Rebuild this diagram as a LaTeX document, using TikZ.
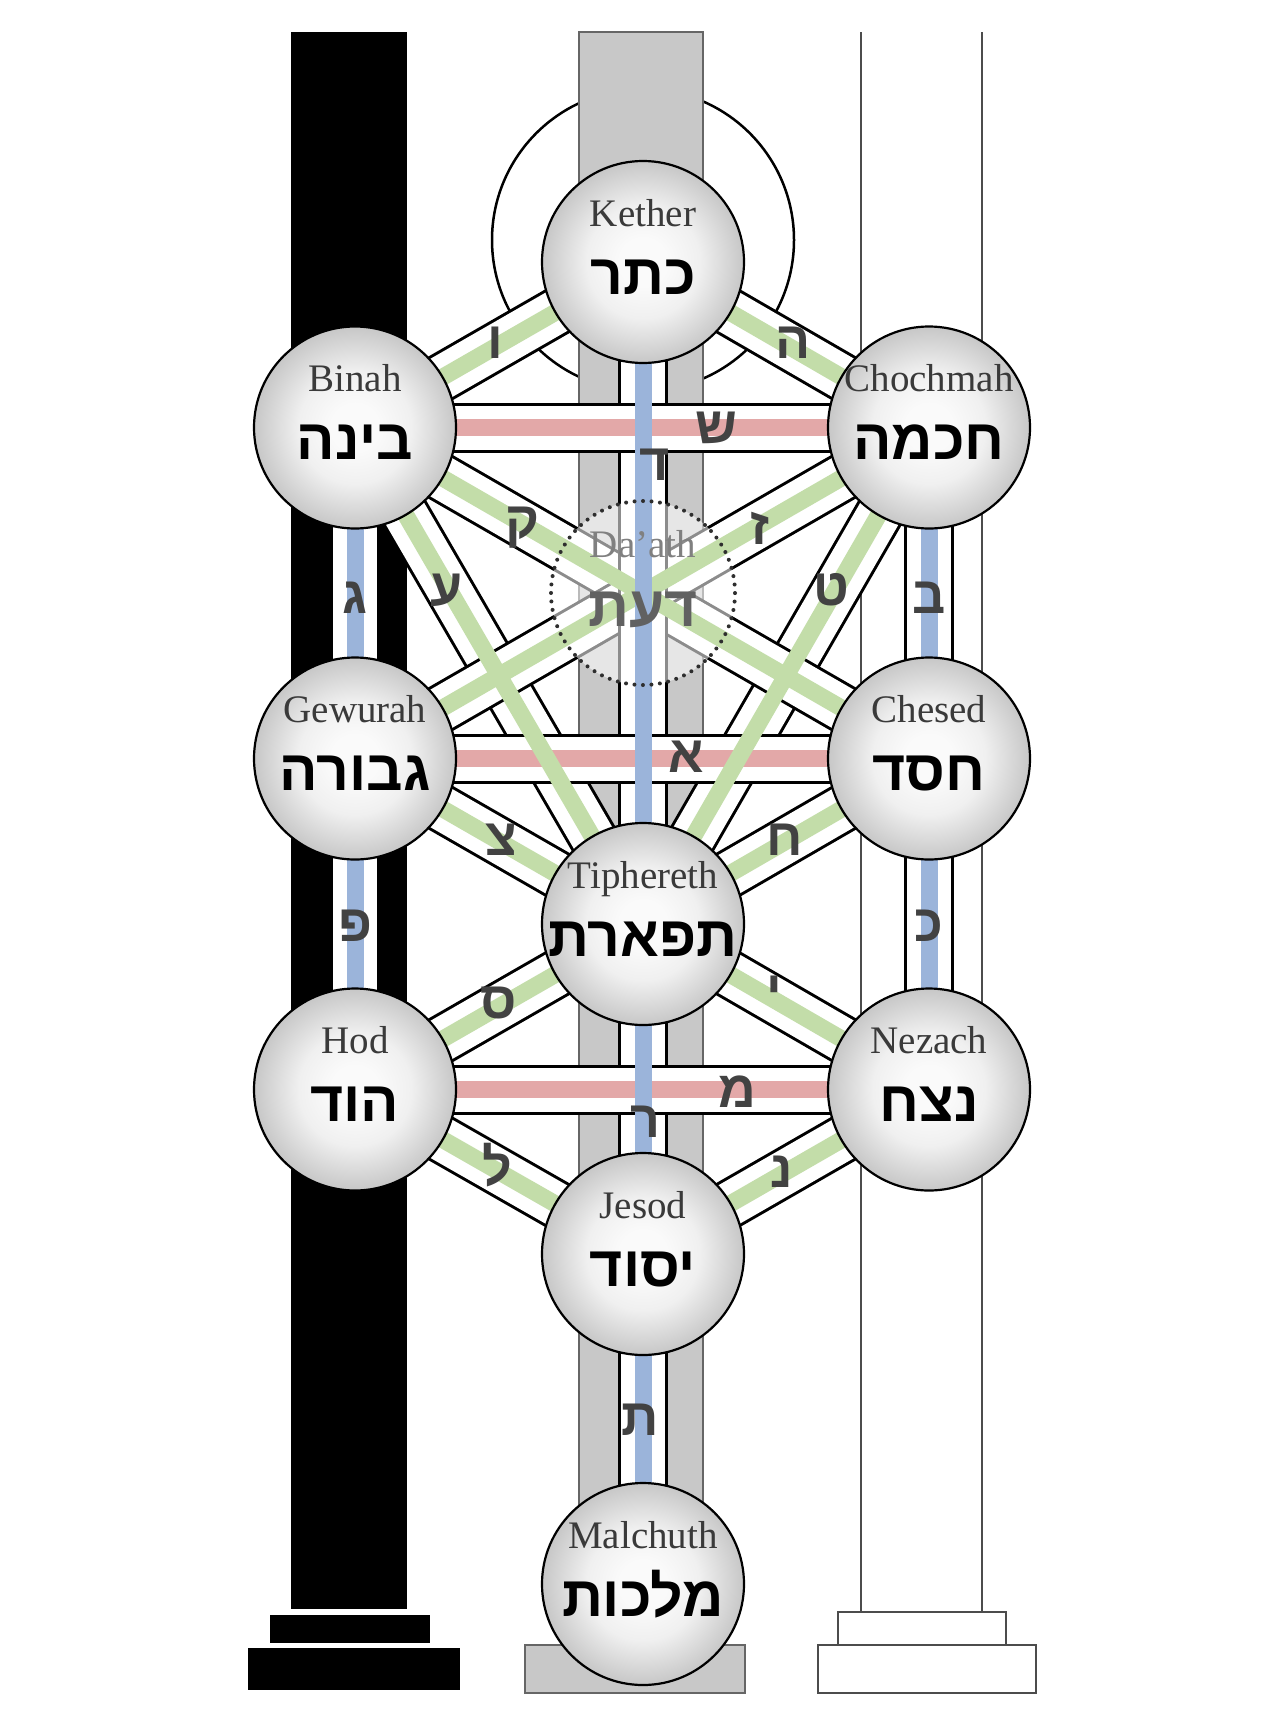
\documentclass[tikz,border=0pt]{standalone}
\usepackage{fontspec}
\setmainfont{Liberation Serif}
\newfontfamily\hebfont[Script=Hebrew]{Liberation Sans}
\TeXXeTstate=1
\definecolor{pgreen}{HTML}{C3DDA9}
\definecolor{pred}{HTML}{E3A8A8}
\definecolor{pblue}{HTML}{9BB4DA}
\definecolor{pillargray}{HTML}{C8C8C8}
\definecolor{namegray}{HTML}{3A3A3A}
\definecolor{lettergray}{HTML}{424242}
\definecolor{sephlight}{gray}{0.98}
\definecolor{sephmid}{gray}{0.94}
\definecolor{sephdark}{gray}{0.78}
\pgfdeclareradialshading{sephball}{\pgfpoint{0bp}{0bp}}{color(0bp)=(sephlight); color(6bp)=(sephlight); color(14bp)=(sephmid); color(25bp)=(sephdark); color(50bp)=(sephdark)}
\pgfdeclarelayer{pillars}
\pgfdeclarelayer{bands}
\pgfdeclarelayer{dfill}
\pgfdeclarelayer{stripes}
\pgfsetlayers{pillars,bands,dfill,stripes,main}
\begin{document}
\begin{tikzpicture}[x=1pt,y=-1pt,
  seph/.style={circle, minimum size=202pt, inner sep=0pt, draw=black, line width=2.2pt, shade, shading=sephball},
  daathnode/.style={circle, minimum size=184pt, inner sep=0pt, draw=black!82, line width=4pt, dash pattern=on 0pt off 8.5pt, line cap=round},
  bandout/.style={draw=black, line width=50pt},
  bandin/.style={draw=white, line width=44pt},
  stripe/.style={draw=#1, line width=17pt},
  ename/.style={font=\fontsize{39}{42}\selectfont, text=namegray, anchor=base, inner sep=0pt},
  hname/.style={font=\hebfont\bfseries\fontsize{57}{60}\selectfont, text=black, anchor=base, inner sep=0pt},
  plet/.style={font=\hebfont\bfseries\fontsize{52}{56}\selectfont, text=lettergray, inner sep=0pt}]
\useasboundingbox (0,0) rectangle (1280,1713);

% ---------- sephiroth ----------
\node[seph] (kether) at (643,262) {};
\node[seph] (binah) at (355,427.5) {};
\node[seph] (chochmah) at (929,427.5) {};
\node[daathnode] (daath) at (643,593) {};
\node[seph] (gewurah) at (355,758.5) {};
\node[seph] (chesed) at (929,758.5) {};
\node[seph] (tiphereth) at (643,924) {};
\node[seph] (hod) at (355,1089.5) {};
\node[seph] (nezach) at (929,1089.5) {};
\node[seph] (jesod) at (643,1254) {};
\node[seph] (malchuth) at (643,1584) {};

% names
\foreach \n/\e/\h in {kether/Kether/כתר, binah/Binah/בינה, chochmah/Chochmah/חכמה,
  gewurah/Gewurah/גבורה, chesed/Chesed/חסד, tiphereth/Tiphereth/תפארת,
  hod/Hod/הוד, nezach/Nezach/נצח, jesod/Jesod/יסוד, malchuth/Malchuth/מלכות}{
  \node[ename] (\n-en) at ([yshift=36pt]\n.center) {\e};
  \node[hname] (\n-he) at ([yshift=-32pt]\n.center) {\beginR\h\endR};
}
\node[ename, text=black!50] (daath-en) at ([yshift=36pt]daath.center) {Da'ath};
\node[hname, text=black!62] (daath-he) at ([yshift=-33pt]daath.center) {\beginR דעת\endR};

% ---------- pillars ----------
\begin{pgfonlayer}{pillars}
  \fill[white] (0,0) rectangle (1280,1713);
  \draw[line width=2.5pt, fill=white] (643,240) circle[radius=151pt];
  \fill[black] (291,32) rectangle (407,1609);
  \fill[black] (270,1615) rectangle (430,1643);
  \fill[black] (248,1648) rectangle (460,1690);
  \filldraw[fill=pillargray, draw=black!60, line width=1.3pt] (579,32) rectangle (703,1645);
  \filldraw[fill=pillargray, draw=black!60, line width=1.3pt] (525,1645) rectangle (745,1693);
  \draw[black!70, line width=2pt] (861,32) -- (861,1612) (982,32) -- (982,1612);
  \filldraw[fill=white, draw=black!70, line width=2pt] (838,1612) rectangle (1006,1645);
  \filldraw[fill=white, draw=black!70, line width=2pt] (818,1645) rectangle (1036,1693);
\end{pgfonlayer}

% ---------- path bands ----------
\begin{pgfonlayer}{bands}
  \foreach \a/\b in {binah/tiphereth, chochmah/tiphereth, binah/chesed, gewurah/chochmah,
    kether/binah, kether/chochmah, gewurah/tiphereth, chesed/tiphereth,
    tiphereth/hod, tiphereth/nezach, hod/jesod, nezach/jesod,
    kether/tiphereth, binah/gewurah, gewurah/hod, chochmah/chesed, chesed/nezach,
    tiphereth/jesod, jesod/malchuth,
    binah/chochmah, gewurah/chesed, hod/nezach}{
    \draw[bandout] (\a.center) -- (\b.center);
    \draw[bandin] (\a.center) -- (\b.center);
  }
\end{pgfonlayer}

\begin{pgfonlayer}{dfill}
  \fill[white, fill opacity=0.55] (daath.center) circle[radius=92pt];
\end{pgfonlayer}

\begin{pgfonlayer}{stripes}
  \foreach \a/\b in {binah/chochmah, gewurah/chesed, hod/nezach}
    \draw[stripe=pred] (\a.center) -- (\b.center);
  \foreach \a/\b in {binah/tiphereth, chochmah/tiphereth, binah/chesed, gewurah/chochmah,
    kether/binah, kether/chochmah, gewurah/tiphereth, chesed/tiphereth,
    tiphereth/hod, tiphereth/nezach, hod/jesod, nezach/jesod}
    \draw[stripe=pgreen] (\a.center) -- (\b.center);
  \foreach \a/\b in {kether/tiphereth, binah/gewurah, gewurah/hod, chochmah/chesed,
    chesed/nezach, tiphereth/jesod, jesod/malchuth}
    \draw[stripe=pblue] (\a.center) -- (\b.center);
\end{pgfonlayer}

% ---------- path letters ----------
\node[plet] (l-vav) at (495,343) {ו};
\node[plet] (l-he) at (793,343) {ה};
\node[plet] (l-shin) at (716,428) {ש};
\node[plet] (l-dalet) at (655,465) {ד};
\node[plet] (l-qof) at (522,528) {ק};
\node[plet] (l-zayin) at (760,528) {ז};
\node[plet] (l-ayin) at (447,590) {ע};
\node[plet] (l-tet) at (831,590) {ט};
\node[plet] (l-gimel) at (355,598) {ג};
\node[plet] (l-bet) at (929,598) {ב};
\node[plet] (l-alef) at (686,757) {א};
\node[plet] (l-tsadi) at (501,840) {צ};
\node[plet] (l-het) at (785,840) {ח};
\node[plet] (l-pe) at (355,926) {פ};
\node[plet] (l-kaf) at (929,926) {כ};
\node[plet] (l-samekh) at (499,1003) {ס};
\node[plet] (l-yod) at (774,992) {י};
\node[plet] (l-mem) at (737,1092) {מ};
\node[plet] (l-resh) at (645,1122) {ר};
\node[plet] (l-lamed) at (497,1165) {ל};
\node[plet] (l-nun) at (782,1172) {נ};
\node[plet] (l-tav) at (640,1420) {ת};
\end{tikzpicture}
\end{document}
